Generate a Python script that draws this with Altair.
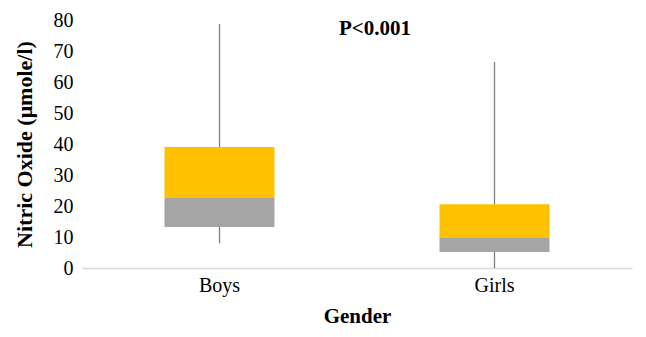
import altair as alt
import pandas as pd

gender = ["Boys", "Girls"]
minv = [8.0, 0.0]
q1 = [13.2, 5.2]
median = [22.6, 9.7]
q3 = [39.0, 20.6]
maxv = [78.7, 66.5]
yticks = [0, 10, 20, 30, 40, 50, 60, 70, 80]

df = pd.DataFrame({"gender": gender, "min": minv, "q1": q1, "median": median, "q3": q3, "max": maxv})

FONT = "Liberation Serif"
YTITLE = "Nitric Oxide (μmole/l)"

x = alt.X("gender:N", title="Gender", sort=gender,
          scale=alt.Scale(paddingInner=0, paddingOuter=0),
          axis=alt.Axis(labelAngle=0, ticks=False, labelPadding=7, titlePadding=10,
                        domainColor="#D9D9D9", domainWidth=1.5,
                        labelFont=FONT, labelFontSize=20, labelColor="#000",
                        titleFont=FONT, titleFontSize=21, titleFontWeight="bold", titleColor="#000"))
yscale = alt.Scale(domain=[0, 80])
yaxis = alt.Axis(values=yticks, tickCount=len(yticks) + 1, grid=False, domain=False, ticks=False,
                 labelOverlap=False, labelPadding=9, titlePadding=17,
                 labelFont=FONT, labelFontSize=20, labelColor="#000",
                 titleFont=FONT, titleFontSize=22, titleFontWeight="bold", titleColor="#000")

base = alt.Chart(df)

whisker = base.mark_rule(color="#7F7F7F", strokeWidth=1.3).encode(
    x=x,
    y=alt.Y("min:Q", scale=yscale, axis=yaxis, title=YTITLE),
    y2="max:Q",
)
lower = base.mark_bar(color="#A5A5A5", width={"band": 0.4}).encode(
    x=x, y=alt.Y("q1:Q", scale=yscale, axis=yaxis, title=YTITLE), y2="median:Q")
upper = base.mark_bar(color="#FFC000", width={"band": 0.4}).encode(
    x=x, y=alt.Y("q3:Q", scale=yscale, axis=yaxis, title=YTITLE), y2="median:Q")

ptext = alt.Chart(pd.DataFrame({"t": ["P<0.001"]})).mark_text(
    font=FONT, fontSize=21, fontWeight="bold", color="#000", dx=18
).encode(text="t:N", x=alt.value(275),
         y=alt.YDatum(77, type="quantitative", scale=yscale, axis=yaxis, title=YTITLE))

chart = alt.layer(whisker, lower, upper, ptext).properties(
    width=550, height=248,
    autosize=alt.AutoSizeParams(type="none"),
    padding={"left": 74, "top": 12, "right": 6, "bottom": 61},
).configure_view(stroke=None)

chart.save("out.html", embed_options={"renderer": "svg", "actions": False})
